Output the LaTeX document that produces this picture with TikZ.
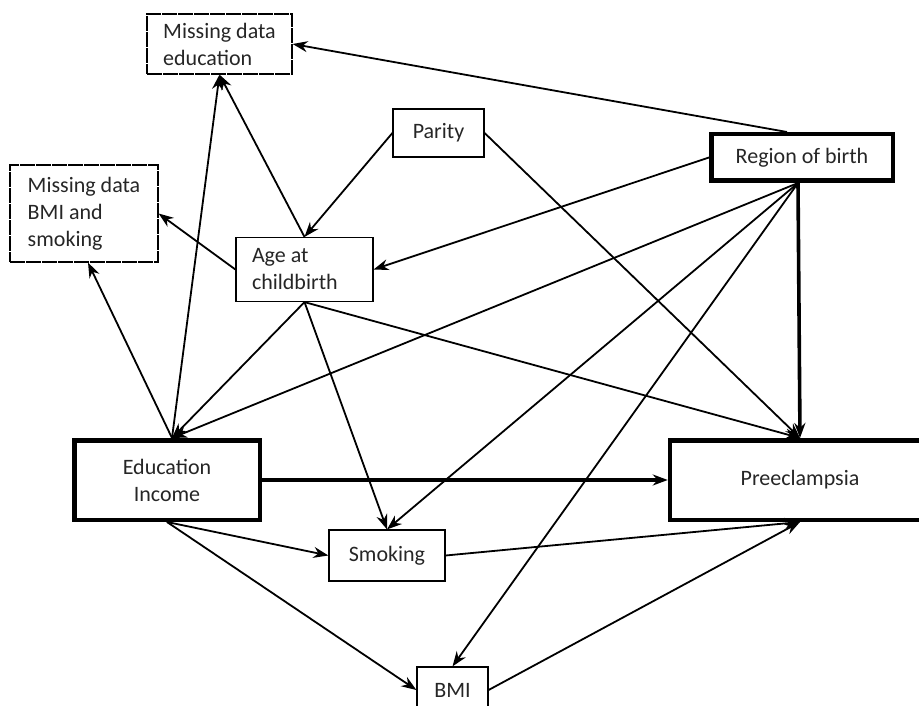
\documentclass[tikz,border=0pt]{standalone}
\usepackage{fontspec}
\setmainfont{Carlito}
\usetikzlibrary{arrows.meta}
\usetikzlibrary{positioning}
\newcommand{\boxfont}{\fontsize{22}{27}\selectfont}
\tikzset{box/.style = {draw, line width=1.2pt, inner sep=0pt, align=center,
                       font=\boxfont, text=black!85},
         thickbox/.style = {box, line width=4.5pt},
         dashbox/.style = {box, dash pattern=on 15pt off 1pt},
         arr/.style = {-{Stealth[length=15pt,width=11pt]}, line width=1.8pt},
         thickarr/.style = {arr, line width=3.6pt}}
\begin{document}
\begin{tikzpicture}[x=1pt,y=-1pt]
        \useasboundingbox (0,0) rectangle (919,706);
        \node[dashbox, minimum width=145, minimum height=60, inner xsep=14pt, align=left] (mde) at (219.5,44) {Missing data\\education};
        \node[dashbox, minimum width=148, minimum height=97, inner xsep=15pt, align=left] (mdbs) at (84,213.5) {Missing data\\BMI and\\smoking};
        \node[box, minimum width=91, minimum height=48] (parity) at (438.5,133) {Parity};
        \node[thickbox, minimum width=181.5, minimum height=46.5] (region) at (802,157.5) {Region of birth};
        \node[box, minimum width=137, minimum height=64, text width=105, inner xsep=16pt, align=flush left] (age) at (304.5,269.5) {Age at\\childbirth};
        \node[thickbox, minimum width=185.5, minimum height=79.5] (edu) at (167,480) {Education\\Income};
        \node[thickbox, minimum width=260, minimum height=79.5] (pre) at (800,480) {Preeclampsia};
        \node[box, minimum width=116, minimum height=51] (smoking) at (387,555.5) {Smoking};
        \node[box, minimum width=71, minimum height=46] (bmi) at (452.5,690) {BMI};
        \draw[arr] ([xshift=-15]region.north) -- (mde.east);
        \draw[arr] (region.west) -- (age.east);
        \draw[arr] ([xshift=-4]region.south) -- ([xshift=5]edu.north);
        \draw[thickarr] ([xshift=-4]region.south) -- (pre.north);
        \draw[arr] ([xshift=-4]region.south) -- (smoking.north);
        \draw[arr] ([xshift=-4]region.south) -- (bmi.north);
        \draw[arr] (parity.west) -- (age.north);
        \draw[arr] (parity.east) -- (pre.north);
        \draw[arr] (age.north) -- (mde.south);
        \draw[arr] (age.west) -- (mdbs.east);
        \draw[arr] (age.south) -- ([xshift=5]edu.north);
        \draw[arr] (age.south) -- (smoking.north);
        \draw[arr] (age.south) -- (pre.north);
        \draw[arr] ([xshift=5]edu.north) -- (mde.south);
        \draw[arr] ([xshift=5]edu.north) -- ([xshift=4]mdbs.south);
        \draw[thickarr] (edu.east) -- (pre.west);
        \draw[arr] (edu.south) -- (smoking.west);
        \draw[arr] (edu.south) -- (bmi.west);
        \draw[arr] (smoking.east) -- (pre.south);
        \draw[arr] (bmi.east) -- (pre.south);
    \end{tikzpicture}
\end{document}
